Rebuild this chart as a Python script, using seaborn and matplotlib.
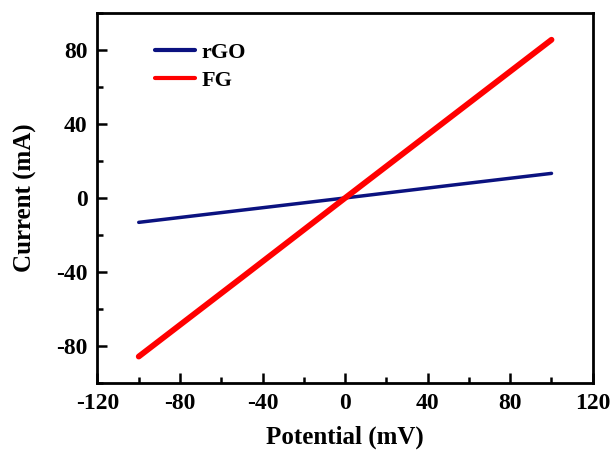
import numpy as np
import pandas as pd
import matplotlib
matplotlib.use("Agg")
import matplotlib.pyplot as plt
import seaborn as sns
from matplotlib.ticker import MultipleLocator

# I-V data
potential = [-100, -50, 0, 50, 100]
current_rgo = [-13.2, -6.6, 0.0, 6.7, 13.3]
current_fg = [-85.8, -43.0, 0.0, 42.8, 85.6]

df = pd.DataFrame({
    'Potential': potential * 2,
    'Current': current_rgo + current_fg,
    'Sample': ['rGO'] * len(potential) + ['FG'] * len(potential),
})

sns.set_style('ticks', {'axes.edgecolor': 'black', 'xtick.color': 'black',
                        'ytick.color': 'black', 'text.color': 'black',
                        'axes.labelcolor': 'black'})
plt.rcParams['font.family'] = ['Liberation Serif', 'DejaVu Serif']
plt.rcParams['font.weight'] = 'bold'
plt.rcParams['axes.unicode_minus'] = False

fig, ax = plt.subplots(figsize=(6.13, 4.53), dpi=100)

sns.lineplot(data=df, x='Potential', y='Current', hue='Sample',
             palette={'rGO': '#0b1280', 'FG': '#ff0000'}, ax=ax)
ax.lines[0].set_linewidth(2.5)
ax.lines[1].set_linewidth(4.2)

ax.set_xlim(-120, 120)
ax.set_ylim(-100, 100)
ax.xaxis.set_major_locator(MultipleLocator(40))
ax.xaxis.set_minor_locator(MultipleLocator(20))
ax.yaxis.set_major_locator(MultipleLocator(40))
ax.yaxis.set_minor_locator(MultipleLocator(20))
ax.tick_params(which='both', direction='in', width=1.8, labelsize=17, pad=7,
               colors='black')
ax.tick_params(which='major', length=7)
ax.tick_params(which='minor', length=4)
for lab in ax.get_xticklabels() + ax.get_yticklabels():
    lab.set_fontweight('bold')
for sp in ax.spines.values():
    sp.set_linewidth(2)
    sp.set_color('black')

ax.set_xlabel('Potential (mV)', fontsize=18, fontweight='bold', labelpad=9)
ax.set_ylabel('Current (mA)', fontsize=18, fontweight='bold', labelpad=14)

leg = ax.legend(loc='upper left', bbox_to_anchor=(0.075, 0.975), frameon=False,
                fontsize=16, handlelength=1.8, handletextpad=0.3, labelspacing=0.35)
for h in leg.get_lines():
    h.set_linewidth(3)
for t in leg.get_texts():
    t.set_fontweight('bold')

fig.subplots_adjust(left=0.159, right=0.967, top=0.971, bottom=0.155)
fig.savefig('out.png', dpi=100)
